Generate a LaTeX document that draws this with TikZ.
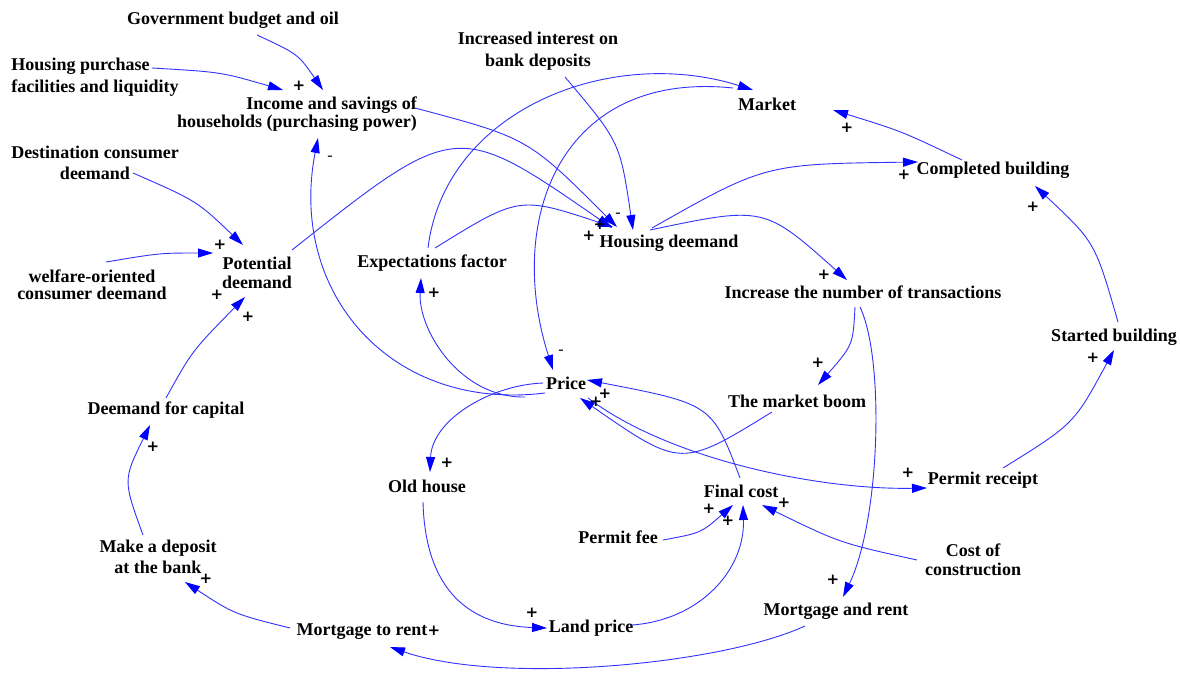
\documentclass[tikz,border=0pt]{standalone}
\usepackage{fontspec}
\setmainfont{Liberation Serif}
\newfontfamily\signfont{DejaVu Sans}
\usetikzlibrary{arrows.meta}
\definecolor{lineblue}{RGB}{50,50,255}
\newcommand\lblfont{\fontsize{18}{18.5}\selectfont\bfseries}
\newcommand\plusfont{\signfont\fontsize{15}{15}\selectfont\bfseries}
\newcommand\minusfont{\fontsize{16}{16}\selectfont}
\tikzset{
  lbl/.style={font=\lblfont, inner sep=1pt, text=black},
  cl/.style={draw=lineblue, line width=0.9pt, -{Triangle[length=15pt,width=9pt,color=blue]}},
  plussign/.style={font=\plusfont, inner sep=0pt},
  minussign/.style={font=\minusfont, inner sep=0pt}
}
\begin{document}
\begin{tikzpicture}[x=1pt,y=-1pt]
\fill[white] (0,0) rectangle (1180,673);
\useasboundingbox (0,0) rectangle (1180,673);

% nodes
\node[lbl] (gov) at (233,20) {Government budget and oil};
\node[lbl,align=left] (hpf) at (95,77) {Housing purchase\\[4pt]facilities and liquidity};
\node[lbl,align=right] (inc) at (297,114) {Income and savings of\\households (purchasing power)};
\node[lbl,align=center] (iibd) at (538,51) {Increased interest on\\[3pt]bank deposits};
\node[lbl] (mkt) at (767,104) {Market};
\node[lbl,align=center] (dcd) at (95,163) {Destination consumer\\[2pt]deemand};
\node[lbl] (cb) at (993,170) {Completed building};
\node[lbl] (hd) at (669,243) {Housing deemand};
\node[lbl] (expf) at (432,263) {Expectations factor};
\node[lbl,align=center] (pot) at (257,273) {Potential\\[0pt]deemand};
\node[lbl,align=center] (wcd) at (92,285) {welfare-oriented\\[-1pt]consumer deemand};
\node[lbl] (intr) at (863,292) {Increase the number of transactions};
\node[lbl] (sb) at (1114,337) {Started building};
\node[lbl] (price) at (566,383) {Price};
\node[lbl] (mb) at (797,401) {The market boom};
\node[lbl] (dfc) at (166,410) {Deemand for capital};
\node[lbl] (old) at (427,486) {Old house};
\node[lbl] (fc) at (741,491) {Final cost};
\node[lbl] (pr) at (983,480) {Permit receipt};
\node[lbl] (pf) at (618,537) {Permit fee};
\node[lbl,align=center] (coc) at (973,560) {Cost of\\construction};
\node[lbl,align=center] (mdb) at (158,557) {Make a deposit\\[2pt]at the bank};
\node[lbl] (mar) at (836,611) {Mortgage and rent};
\node[lbl] (mtr) at (362,632) {Mortgage to rent};
\node[lbl] (lp) at (591,628) {Land price};

% connectors
\draw[cl] ([shift={(24,15)}]gov.center) .. controls (298,54) .. ([shift={(26,-24)}]inc.center);
\draw[cl] ([shift={(57,-9)}]hpf.center) .. controls (221,72) .. ([shift={(-14,-24)}]inc.center);
\draw[cl] ([shift={(118,-6)}]inc.center) .. controls (528,138) .. ([shift={(-52,-16)}]hd.center);
\draw[cl] ([shift={(38,10)}]dcd.center) .. controls (197,201) .. ([shift={(-14,-28)}]pot.center);
\draw[cl] ([shift={(14,-23)}]wcd.center) .. controls (160,253) .. ([shift={(-44,-20)}]pot.center);
\draw[cl] ([shift={(35,-23)}]pot.center) .. controls (456,120) .. ([shift={(-57,-15)}]hd.center);
\draw[cl] ([shift={(-21,10)}]price.center) .. controls (390,412) and (288,292) .. ([shift={(21,24)}]inc.center);
\draw[cl] ([shift={(-41,14)}]price.center) .. controls (460,398) and (418,330) .. ([shift={(-11,15)}]expf.center);
\draw[cl] ([shift={(-23,0)}]price.center) .. controls (490,385) and (432,420) .. ([shift={(3,-14)}]old.center);
\draw[cl] ([shift={(3,-15)}]expf.center) .. controls (519,196) .. ([shift={(-56,-16)}]hd.center);
\draw[cl] ([shift={(-4,-15)}]expf.center) .. controls (445,110) and (610,45) .. ([shift={(-14,-14)}]mkt.center);
\draw[cl] ([shift={(27,26)}]iibd.center) .. controls (620,142) .. ([shift={(-36,-13)}]hd.center);
\draw[cl] ([shift={(-34,-16)}]mkt.center) .. controls (560,70) and (505,220) .. ([shift={(-13,-13)}]price.center);
\draw[cl] ([shift={(-17,-15)}]hd.center) .. controls (765,164) .. ([shift={(-75,-8)}]cb.center);
\draw[cl] ([shift={(-19,-13)}]hd.center) .. controls (764,206) .. ([shift={(-16,-12)}]intr.center);
\draw[cl] ([shift={(-31,-10)}]cb.center) .. controls (901,131) .. ([shift={(66,6)}]mkt.center);
\draw[cl] ([shift={(4,-15)}]sb.center) .. controls (1095,242) .. ([shift={(42,16)}]cb.center);
\draw[cl] ([shift={(20,-12)}]pr.center) .. controls (1074,424) .. ([shift={(0,13)}]sb.center);
\draw[cl] ([shift={(-8,15)}]intr.center) .. controls (853,345) .. ([shift={(21,-16)}]mb.center);
\draw[cl] ([shift={(-3,15)}]intr.center) .. controls (885,360) and (880,520) .. ([shift={(7,-14)}]mar.center);
\draw[cl] ([shift={(-25,11)}]mb.center) .. controls (681,468) .. ([shift={(14,15)}]price.center);
\draw[cl] ([shift={(22,15)}]price.center) .. controls (670,460) and (820,490) .. ([shift={(-56,8)}]pr.center);
\draw[cl] ([shift={(-1,-13)}]fc.center) .. controls (712,404) .. ([shift={(21,-3)}]price.center);
\draw[cl] ([shift={(-4,16)}]old.center) .. controls (425,580) and (460,625) .. ([shift={(-44,0)}]lp.center);
\draw[cl] ([shift={(41,-3)}]lp.center) .. controls (700,620) and (745,570) .. ([shift={(2,14)}]fc.center);
\draw[cl] ([shift={(45,3)}]pf.center) .. controls (701,533) .. ([shift={(-8,14)}]fc.center);
\draw[cl] ([shift={(-56,0)}]coc.center) .. controls (840,543) .. ([shift={(21,14)}]fc.center);
\draw[cl] ([shift={(-31,15)}]mar.center) .. controls (720,665) and (500,685) .. ([shift={(28,15)}]mtr.center);
\draw[cl] ([shift={(-72,-4)}]mtr.center) .. controls (234,614) .. ([shift={(27,25)}]mdb.center);
\draw[cl] ([shift={(-15,-22)}]mdb.center) .. controls (123,480) .. ([shift={(-16,15)}]dfc.center);
\draw[cl] ([shift={(0,-12)}]dfc.center) .. controls (192,351) .. ([shift={(-12,24)}]pot.center);

% polarity signs
\node[plussign] (s1) at (299,86) {+};
\node[minussign] (s2) at (330,158) {-};
\node[plussign] (s3) at (220,245) {+};
\node[plussign] (s4) at (217,295) {+};
\node[plussign] (s5) at (248,317) {+};
\node[plussign] (s6) at (153,447) {+};
\node[plussign] (s7) at (206,579) {+};
\node[plussign] (s8) at (434,631) {+};
\node[plussign] (s9) at (532,613) {+};
\node[plussign] (s10) at (447,463) {+};
\node[plussign] (s11) at (434,293) {+};
\node[plussign] (s12) at (589,236) {+};
\node[plussign] (s13) at (600,225) {+};
\node[minussign] (s14) at (618,215) {-};
\node[minussign] (s15) at (561,352) {-};
\node[plussign] (s16) at (596,402) {+};
\node[plussign] (s17) at (605,394) {+};
\node[plussign] (s18) at (847,128) {+};
\node[plussign] (s19) at (904,175) {+};
\node[plussign] (s20) at (1033,207) {+};
\node[plussign] (s21) at (824,275) {+};
\node[plussign] (s22) at (818,363) {+};
\node[plussign] (s23) at (1093,358) {+};
\node[plussign] (s24) at (908,473) {+};
\node[plussign] (s25) at (784,503) {+};
\node[plussign] (s26) at (709,509) {+};
\node[plussign] (s27) at (728,521) {+};
\node[plussign] (s28) at (833,580) {+};
\end{tikzpicture}
\end{document}
